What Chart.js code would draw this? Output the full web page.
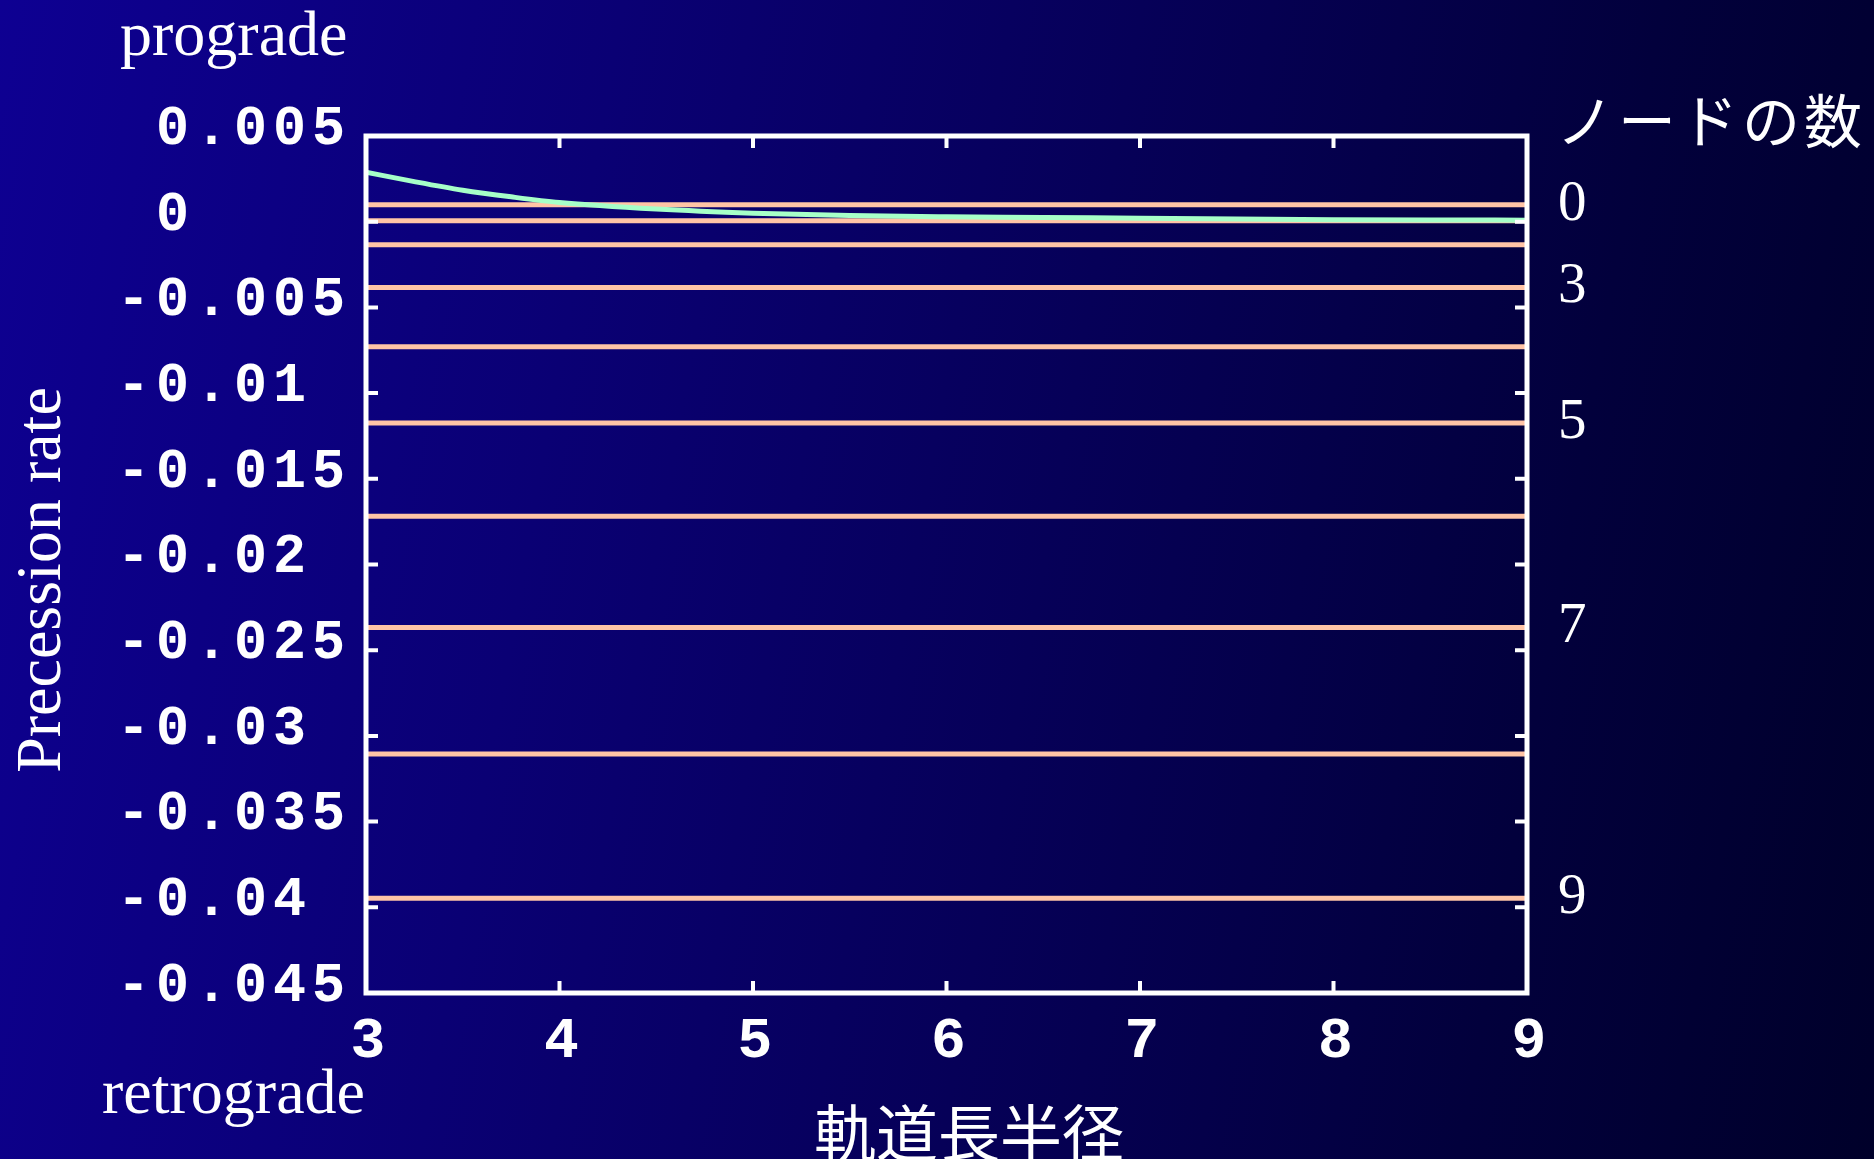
<!DOCTYPE html>
<html>
<head>
<meta charset="utf-8">
<script src="https://cdn.jsdelivr.net/npm/chart.js@4.4.1/dist/chart.umd.min.js"></script>
<style>
  html, body { margin: 0; padding: 0; width: 1874px; height: 1159px; overflow: hidden; }
  body { background: linear-gradient(100deg, #0e0092 0%, #0a0074 30%, #060058 55%, #02003c 80%, #00002a 100%); }
  canvas { display: block; }
</style>
</head>
<body>
<canvas id="precessionChart" width="1874" height="1159"></canvas>
<script>
// --- DATA ---
// semi-major axis vs precession rate (green curve)
const semiMajor = [3, 3.25, 3.5, 3.75, 4, 4.5, 5, 5.5, 6, 6.5, 7, 7.5, 8, 8.5, 9];
const precessionRate = [0.00289, 0.00234, 0.00184, 0.00145, 0.00112, 0.00074, 0.00050, 0.00036,
                        0.00029, 0.00025, 0.00020, 0.00016, 0.00012, 0.00010, 0.00009];

// horizontal lines, one per number of nodes
const nodeCounts = [0, 1, 2, 3, 4, 5, 6, 7, 8, 9];
const nodeRates = [0.00099, 0.00005, -0.00135, -0.00384, -0.0073, -0.01174, -0.01719, -0.02367, -0.03106, -0.03947];
const nodeTickLabels = ['0', '', '', '3', '', '5', '', '7', '', '9'];

// axes
const xTicks = [3, 4, 5, 6, 7, 8, 9];
const yTicks = [-0.045, -0.04, -0.035, -0.03, -0.025, -0.02, -0.015, -0.01, -0.005, 0, 0.005];
const yTickLabels = ['-0.045', '-0.04', '-0.035', '-0.03', '-0.025', '-0.02', '-0.015', '-0.01', '-0.005', ' 0', ' 0.005'];

const xTitle = '軌道長半径';
const yTitle = 'Precession rate';
const nodeTitle = 'ノードの数';
const topNote = 'prograde';
const bottomNote = 'retrograde';

const GREEN = '#a6ffc8';
const PEACH = '#ffc4a6';

// --- DATASETS ---
const datasets = [{
    label: 'precession',
    data: semiMajor.map((a, i) => ({ x: a, y: precessionRate[i] })),
    borderColor: GREEN,
    borderWidth: 5,
    cubicInterpolationMode: 'monotone',
    order: 0
}];

nodeCounts.forEach((n, i) => {
    datasets.push({
        label: 'nodes ' + n,
        data: [{ x: xTicks[0], y: nodeRates[i] }, { x: xTicks[xTicks.length - 1], y: nodeRates[i] }],
        borderColor: PEACH,
        borderWidth: 5,
        order: 1
    });
});

// --- FRAME, INWARD TICKS, EXTRA TEXT ---
const framePlugin = {
    id: 'frame',
    beforeDraw(chart) {
        chart.ctx.letterSpacing = '6px';
    },
    afterDatasetsDraw(chart) {
        const { ctx, chartArea: a, scales } = chart;
        ctx.save();
        ctx.strokeStyle = '#ffffff';
        ctx.lineWidth = 4;
        ctx.beginPath();
        xTicks.forEach(v => {
            const px = scales.x.getPixelForValue(v);
            ctx.moveTo(px, a.bottom); ctx.lineTo(px, a.bottom - 12);
            ctx.moveTo(px, a.top); ctx.lineTo(px, a.top + 12);
        });
        yTicks.forEach(v => {
            const py = scales.y.getPixelForValue(v);
            ctx.moveTo(a.left, py); ctx.lineTo(a.left + 12, py);
            ctx.moveTo(a.right, py); ctx.lineTo(a.right - 12, py);
        });
        ctx.stroke();
        ctx.lineWidth = 5;
        ctx.strokeRect(a.left, a.top, a.right - a.left, a.bottom - a.top);
        ctx.restore();
    },
    afterDraw(chart) {
        const ctx = chart.ctx;
        ctx.save();
        ctx.letterSpacing = '0px';
        ctx.fillStyle = '#ffffff';
        ctx.textAlign = 'left';
        ctx.textBaseline = 'alphabetic';
        ctx.font = '64px "Liberation Serif"';
        ctx.fillText(topNote, 120, 55);
        ctx.fillText(bottomNote, 102, 1113);

        ctx.font = '58px "Noto Sans CJK JP"';
        ctx.letterSpacing = '4px';
        ctx.textBaseline = 'middle';
        ctx.fillText(nodeTitle, 1556, 121);
        ctx.letterSpacing = '0px';

        ctx.font = '62px "Noto Sans CJK JP"';
        ctx.textAlign = 'center';
        ctx.fillText(xTitle, 969, 1133);

        ctx.translate(60, 580);
        ctx.rotate(-Math.PI / 2);
        ctx.font = '64px "Liberation Serif"';
        ctx.textBaseline = 'alphabetic';
        ctx.fillText(yTitle, 0, 0);
        ctx.restore();
    }
};

const monoFont = { family: 'Liberation Mono', size: 55, weight: 'bold' };

new Chart(document.getElementById('precessionChart'), {
    type: 'line',
    data: { datasets: datasets },
    options: {
        responsive: false,
        animation: false,
        devicePixelRatio: 1,
        layout: { padding: { left: 117, top: 136, right: 0, bottom: 0 } },
        plugins: { legend: { display: false }, tooltip: { enabled: false } },
        elements: { point: { radius: 0 } },
        scales: {
            x: {
                type: 'linear',
                min: 3,
                max: 9,
                afterBuildTicks: s => { s.ticks = xTicks.map(v => ({ value: v })); },
                afterFit: s => { s.height = 166; },
                grid: { display: false, drawTicks: false },
                border: { display: false },
                ticks: {
                    color: '#ffffff',
                    font: { family: 'Liberation Mono', size: 58, weight: 'bold' },
                    padding: 15,
                    labelOffset: 5,
                    maxRotation: 0,
                    autoSkip: false,
                    callback: v => String(v)
                }
            },
            y: {
                type: 'linear',
                position: 'left',
                min: -0.045,
                max: 0.005,
                afterBuildTicks: s => { s.ticks = yTicks.map(v => ({ value: v })); },
                afterFit: s => { s.width = 249; },
                grid: { display: false, drawTicks: false },
                border: { display: false },
                ticks: {
                    color: '#ffffff',
                    font: monoFont,
                    crossAlign: 'far',
                    labelOffset: -6,
                    autoSkip: false,
                    callback: v => yTickLabels[yTicks.indexOf(v)]
                }
            },
            yNodes: {
                type: 'linear',
                position: 'right',
                min: -0.045,
                max: 0.005,
                afterBuildTicks: s => { s.ticks = nodeRates.map(v => ({ value: v })); },
                afterFit: s => { s.width = 347; },
                grid: { display: false, drawTicks: false },
                border: { display: false },
                ticks: {
                    color: '#ffffff',
                    font: { family: 'Liberation Serif', size: 57 },
                    padding: 31,
                    crossAlign: 'near',
                    autoSkip: false,
                    callback: v => nodeTickLabels[nodeRates.indexOf(v)]
                }
            }
        }
    },
    plugins: [framePlugin]
});
</script>
</body>
</html>
